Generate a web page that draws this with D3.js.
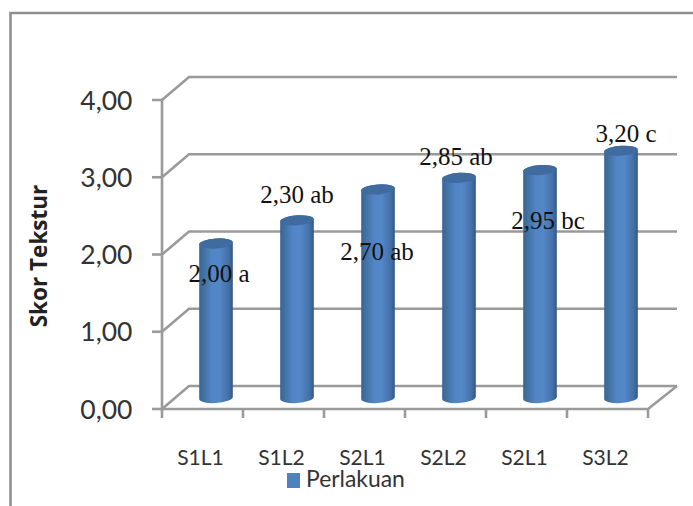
<!DOCTYPE html>
<html>
<head>
<meta charset="utf-8">
<script src="https://cdn.jsdelivr.net/npm/d3@7/dist/d3.min.js"></script>
<style>
html,body{margin:0;padding:0;background:#fff;overflow:hidden}
svg{display:block}
</style>
</head>
<body>
<svg id="chart" width="693" height="506"></svg>
<script>
// Chart values
const categories = ["S1L1", "S1L2", "S2L1", "S2L2", "S2L1", "S3L2"];
const scores = [2.00, 2.30, 2.70, 2.85, 2.95, 3.20];
const significance = ["a", "ab", "ab", "ab", "bc", "c"];
const yTicks = [0, 1, 2, 3, 4];
const yTitle = "Skor Tekstur";
const seriesName = "Perlakuan";

const comma = v => v.toFixed(2).replace(".", ",");

// Layout of the pseudo-3D plot box
const front = { left: 162, right: 648, bottom: 409, top: 100 };
const depth = { dx: 27, dy: -23 };
const gridColor = "#9a9a9a";
const gridWidth = 2.6;

// Hand-placed data label offsets from each bar's top centre
const labelShift = [
  { x: 3, y: 38.5 }, { x: 0, y: -17.5 }, { x: -1, y: 70.5 },
  { x: -3, y: -12.5 }, { x: 8, y: 58.5 }, { x: 5, y: -8.5 }
];

const svg = d3.select("#chart");
const x = d3.scaleBand().domain(d3.range(categories.length)).range([front.left, front.right]);
const y = d3.scaleLinear().domain([0, 4]).range([front.bottom, front.top]);

const defs = svg.append("defs");
const grad = defs.append("linearGradient").attr("id", "cyl");
[[0, "#3a6496"], [0.12, "#41709f"], [0.38, "#5285c6"], [0.6, "#5487c8"], [0.88, "#436fa6"], [1, "#34587f"]]
  .forEach(([o, c]) => grad.append("stop").attr("offset", o).attr("stop-color", c));

// Chart frame: only the top and left edges fall inside the crop
svg.append("path")
  .attr("d", "M10.5,506V13H693")
  .attr("fill", "none").attr("stroke", "#909090").attr("stroke-width", 2.6);

const wall = svg.append("g").attr("fill", "none").attr("stroke", gridColor).attr("stroke-width", gridWidth);

// Back wall gridlines with their diagonal run to the value axis
yTicks.forEach(t => {
  wall.append("path")
    .attr("d", d3.line()([
      [front.left, y(t)],
      [front.left + depth.dx, y(t) + depth.dy],
      [front.right + depth.dx + 2, y(t) + depth.dy]
    ]));
});
// Floor edge, value axis and tick marks
wall.append("path").attr("d", d3.line()([
  [front.left, y(0)], [front.right, y(0)], [front.right + depth.dx + 2, y(0) + depth.dy]
]));
wall.append("line")
  .attr("x1", front.left).attr("x2", front.left).attr("y1", y(4)).attr("y2", y(0) + 9);
yTicks.forEach(t => wall.append("line")
  .attr("x1", front.left - 10).attr("x2", front.left).attr("y1", y(t)).attr("y2", y(t)));
d3.range(1, categories.length + 1).forEach(i => {
  const px = front.left + x.step() * i;
  wall.append("line").attr("x1", px).attr("x2", px).attr("y1", y(0)).attr("y2", y(0) + 9);
});

// Value axis labels
svg.append("g").selectAll("text").data(yTicks).join("text")
  .attr("x", 132.5).attr("y", d => y(d) + 9.5)
  .attr("text-anchor", "end")
  .attr("font-family", "Lato, sans-serif")
  .attr("font-size", 26.5)
  .attr("fill", "#333")
  .text(comma);

// Value axis title
svg.append("text")
  .attr("transform", "translate(47,256) rotate(-90)")
  .attr("text-anchor", "middle")
  .attr("font-family", "'Open Sans', sans-serif")
  .attr("font-weight", 700)
  .attr("font-size", 22.5)
  .attr("fill", "#222")
  .text(yTitle);

// Category labels
svg.append("g").selectAll("text").data(categories).join("text")
  .attr("x", (d, i) => x(i) + x.bandwidth() / 2 - 2)
  .attr("y", 465)
  .attr("text-anchor", "middle")
  .attr("font-family", "Lato, sans-serif")
  .attr("font-size", 21)
  .attr("fill", "#333")
  .text(d => d);

// Cylinders stand halfway into the depth of the floor
const barW = x.bandwidth() * 0.415;
const rx = barW / 2, ry = 5;
const cx = i => x(i) + x.bandwidth() / 2 + depth.dx / 2;
const lift = -11;
const bars = svg.append("g").selectAll("g").data(scores).join("g");
bars.append("path")
  .attr("fill", "url(#cyl)")
  .attr("d", (d, i) => {
    const l = cx(i) - rx, r = cx(i) + rx, b = y(0) + lift, t = y(d) + lift;
    return `M${l},${t + 1}L${l},${b + 1}A${rx},${ry} -4 0 0 ${r},${b - 1}L${r},${t - 1}A${rx},${ry} -4 0 0 ${l},${t + 1}Z`;
  });
bars.append("ellipse")
  .attr("fill", "#3f6b9f")
  .attr("cx", (d, i) => cx(i)).attr("cy", d => y(d) + lift)
  .attr("rx", rx).attr("ry", ry)
  .attr("transform", (d, i) => `rotate(-4 ${cx(i)} ${y(d) + lift})`);

// Data labels: value plus significance letter
svg.append("g").selectAll("text").data(scores).join("text")
  .attr("x", (d, i) => cx(i) + labelShift[i].x)
  .attr("y", (d, i) => y(d) + lift + labelShift[i].y)
  .attr("text-anchor", "middle")
  .attr("font-family", "'Liberation Serif', serif")
  .attr("font-size", 25)
  .attr("fill", "#111")
  .text((d, i) => `${comma(d)} ${significance[i]}`);

// Legend
svg.append("rect").attr("x", 287).attr("y", 473).attr("width", 13).attr("height", 15).attr("fill", "#4f81bd");
svg.append("text")
  .attr("x", 306).attr("y", 487)
  .attr("font-family", "Lato, sans-serif")
  .attr("font-size", 22.9)
  .attr("fill", "#333")
  .text(seriesName);
</script>
</body>
</html>
